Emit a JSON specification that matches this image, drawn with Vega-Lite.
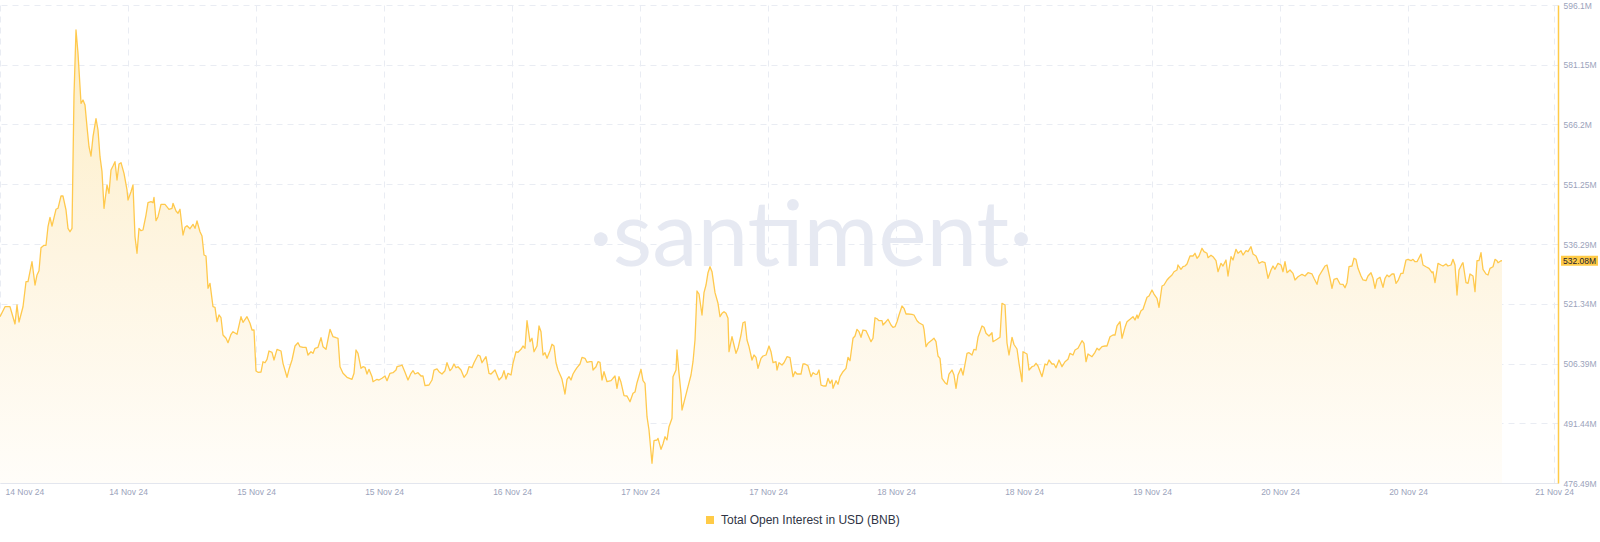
{
  "$schema": "https://vega.github.io/schema/vega-lite/v6.json",
  "description": "Total Open Interest in USD (BNB), 14-21 Nov 24",
  "width": 1558,
  "height": 478,
  "autosize": {"type": "none"},
  "padding": {"left": 0, "top": 5, "right": 42, "bottom": 59},
  "background": "#ffffff",
  "data": {
    "values": [
      {"t":1731560400000,"v":518.10},{"t":1731562400000,"v":520.60},{"t":1731564400000,"v":520.60},{"t":1731566400000,"v":516.28},
      {"t":1731567200000,"v":521.03},{"t":1731568000000,"v":516.78},{"t":1731569600000,"v":520.60},{"t":1731570800000,"v":526.86},
      {"t":1731571600000,"v":526.86},{"t":1731573200000,"v":531.86},{"t":1731574400000,"v":526.03},{"t":1731575200000,"v":528.54},
      {"t":1731576000000,"v":529.61},{"t":1731576800000,"v":535.37},{"t":1731578000000,"v":535.97},{"t":1731578800000,"v":535.97},
      {"t":1731579600000,"v":540.62},{"t":1731580400000,"v":542.98},{"t":1731581200000,"v":540.80},{"t":1731582800000,"v":544.98},
      {"t":1731583600000,"v":545.23},{"t":1731584800000,"v":548.30},{"t":1731585600000,"v":548.30},{"t":1731586800000,"v":544.80},
      {"t":1731587600000,"v":540.22},{"t":1731588400000,"v":539.37},{"t":1731589200000,"v":540.22},{"t":1731590000000,"v":573.58},
      {"t":1731590800000,"v":589.84},{"t":1731591600000,"v":584.01},{"t":1731592800000,"v":571.50},{"t":1731593600000,"v":572.33},
      {"t":1731594400000,"v":571.08},{"t":1731595200000,"v":565.65},{"t":1731596000000,"v":560.64},{"t":1731596800000,"v":558.31},
      {"t":1731597600000,"v":563.14},{"t":1731598800000,"v":567.65},{"t":1731599600000,"v":564.82},{"t":1731600400000,"v":558.14},
      {"t":1731601200000,"v":554.39},{"t":1731602000000,"v":545.23},{"t":1731603200000,"v":551.06},{"t":1731604000000,"v":548.98},
      {"t":1731604800000,"v":554.81},{"t":1731605600000,"v":555.81},{"t":1731606400000,"v":556.89},{"t":1731607200000,"v":552.31},
      {"t":1731608000000,"v":556.31},{"t":1731608800000,"v":556.64},{"t":1731610000000,"v":553.98},{"t":1731611200000,"v":549.81},
      {"t":1731611600000,"v":547.30},{"t":1731612800000,"v":549.38},{"t":1731613600000,"v":551.06},{"t":1731614400000,"v":538.12},
      {"t":1731615200000,"v":533.97},{"t":1731616000000,"v":540.22},{"t":1731616800000,"v":539.62},{"t":1731617600000,"v":539.80},
      {"t":1731618800000,"v":543.55},{"t":1731619600000,"v":546.63},{"t":1731620800000,"v":546.88},{"t":1731621600000,"v":546.63},
      {"t":1731622000000,"v":547.98},{"t":1731622800000,"v":542.12},{"t":1731623600000,"v":543.13},{"t":1731624800000,"v":546.23},
      {"t":1731626400000,"v":546.23},{"t":1731628000000,"v":544.98},{"t":1731629200000,"v":545.23},{"t":1731629600000,"v":546.48},
      {"t":1731630800000,"v":544.55},{"t":1731631600000,"v":543.98},{"t":1731632400000,"v":544.98},{"t":1731633600000,"v":538.55},
      {"t":1731634400000,"v":540.47},{"t":1731635200000,"v":540.87},{"t":1731636400000,"v":540.12},{"t":1731637600000,"v":541.22},
      {"t":1731638400000,"v":540.22},{"t":1731639200000,"v":542.05},{"t":1731640400000,"v":539.37},{"t":1731641200000,"v":538.30},
      {"t":1731642000000,"v":533.54},{"t":1731642800000,"v":533.29},{"t":1731643600000,"v":525.21},{"t":1731644400000,"v":526.46},
      {"t":1731645600000,"v":520.60},{"t":1731646400000,"v":520.45},{"t":1731647200000,"v":516.85},{"t":1731648000000,"v":518.53},
      {"t":1731648800000,"v":517.85},{"t":1731649600000,"v":513.52},{"t":1731650800000,"v":512.70},{"t":1731651600000,"v":511.60},
      {"t":1731652800000,"v":513.70},{"t":1731653600000,"v":514.35},{"t":1731655200000,"v":513.70},{"t":1731656800000,"v":518.10},
      {"t":1731657600000,"v":516.70},{"t":1731659200000,"v":518.10},{"t":1731660400000,"v":516.45},{"t":1731661200000,"v":514.77},
      {"t":1731662000000,"v":514.77},{"t":1731662800000,"v":504.51},{"t":1731663600000,"v":504.19},{"t":1731664800000,"v":504.26},
      {"t":1731665600000,"v":506.84},{"t":1731666400000,"v":506.59},{"t":1731667200000,"v":507.44},{"t":1731668000000,"v":509.52},
      {"t":1731669200000,"v":509.19},{"t":1731670000000,"v":507.27},{"t":1731671200000,"v":509.94},{"t":1731672800000,"v":509.52},
      {"t":1731673600000,"v":506.44},{"t":1731675200000,"v":502.94},{"t":1731676000000,"v":504.94},{"t":1731677200000,"v":507.27},
      {"t":1731678400000,"v":510.77},{"t":1731679600000,"v":511.60},{"t":1731680400000,"v":510.60},{"t":1731681600000,"v":510.45},
      {"t":1731682800000,"v":510.45},{"t":1731683600000,"v":508.52},{"t":1731684800000,"v":509.34},{"t":1731685600000,"v":508.94},
      {"t":1731686400000,"v":510.20},{"t":1731687600000,"v":510.45},{"t":1731688800000,"v":512.85},{"t":1731689600000,"v":510.60},
      {"t":1731690800000,"v":509.94},{"t":1731692400000,"v":514.95},{"t":1731693600000,"v":513.10},{"t":1731694800000,"v":512.85},
      {"t":1731695600000,"v":512.70},{"t":1731696400000,"v":505.59},{"t":1731697600000,"v":503.94},{"t":1731699200000,"v":502.94},
      {"t":1731701200000,"v":502.44},{"t":1731702000000,"v":503.94},{"t":1731702800000,"v":509.77},{"t":1731703600000,"v":508.94},
      {"t":1731704800000,"v":505.19},{"t":1731705600000,"v":505.59},{"t":1731706400000,"v":505.44},{"t":1731707200000,"v":503.76},
      {"t":1731708000000,"v":504.94},{"t":1731709200000,"v":503.09},{"t":1731709600000,"v":501.84},{"t":1731711200000,"v":502.44},
      {"t":1731712000000,"v":502.26},{"t":1731713200000,"v":502.69},{"t":1731714400000,"v":503.26},{"t":1731715200000,"v":502.09},
      {"t":1731716400000,"v":503.94},{"t":1731717600000,"v":504.09},{"t":1731718800000,"v":504.76},{"t":1731719200000,"v":505.59},
      {"t":1731720400000,"v":505.77},{"t":1731721200000,"v":506.02},{"t":1731722400000,"v":504.19},{"t":1731723600000,"v":502.26},
      {"t":1731724800000,"v":503.94},{"t":1731725600000,"v":504.59},{"t":1731726400000,"v":503.76},{"t":1731727600000,"v":504.09},
      {"t":1731728800000,"v":503.26},{"t":1731729600000,"v":503.26},{"t":1731730400000,"v":500.84},{"t":1731732000000,"v":501.01},
      {"t":1731733200000,"v":502.26},{"t":1731734000000,"v":504.76},{"t":1731735200000,"v":505.02},{"t":1731736000000,"v":504.34},
      {"t":1731737200000,"v":503.76},{"t":1731738400000,"v":504.59},{"t":1731739200000,"v":506.59},{"t":1731740400000,"v":504.59},
      {"t":1731741200000,"v":505.19},{"t":1731742000000,"v":506.27},{"t":1731742800000,"v":505.34},{"t":1731743600000,"v":505.59},
      {"t":1731744800000,"v":504.76},{"t":1731746000000,"v":502.94},{"t":1731747200000,"v":503.94},{"t":1731748000000,"v":505.59},
      {"t":1731749200000,"v":505.34},{"t":1731750000000,"v":506.59},{"t":1731751600000,"v":508.52},{"t":1731752400000,"v":508.27},
      {"t":1731753200000,"v":506.59},{"t":1731754800000,"v":508.09},{"t":1731756000000,"v":503.94},{"t":1731756800000,"v":503.76},
      {"t":1731758400000,"v":504.76},{"t":1731759200000,"v":503.51},{"t":1731760000000,"v":502.26},{"t":1731761200000,"v":503.09},
      {"t":1731762000000,"v":504.59},{"t":1731762800000,"v":502.51},{"t":1731763600000,"v":503.94},{"t":1731764800000,"v":503.51},
      {"t":1731765600000,"v":506.44},{"t":1731766800000,"v":509.34},{"t":1731767600000,"v":509.19},{"t":1731768800000,"v":509.94},
      {"t":1731769600000,"v":510.77},{"t":1731770400000,"v":510.20},{"t":1731771200000,"v":517.10},{"t":1731772400000,"v":511.85},
      {"t":1731773200000,"v":512.70},{"t":1731774000000,"v":509.34},{"t":1731775200000,"v":510.77},{"t":1731776000000,"v":515.78},
      {"t":1731776800000,"v":514.35},{"t":1731777600000,"v":508.52},{"t":1731778400000,"v":509.09},{"t":1731779200000,"v":507.69},
      {"t":1731780400000,"v":509.59},{"t":1731781200000,"v":511.20},{"t":1731782000000,"v":510.77},{"t":1731782800000,"v":506.59},
      {"t":1731783600000,"v":504.76},{"t":1731784800000,"v":503.09},{"t":1731785200000,"v":502.44},{"t":1731786400000,"v":498.76},
      {"t":1731787200000,"v":502.44},{"t":1731788000000,"v":503.09},{"t":1731788800000,"v":502.26},{"t":1731789600000,"v":503.76},
      {"t":1731790400000,"v":504.59},{"t":1731791200000,"v":505.34},{"t":1731792400000,"v":506.27},{"t":1731793200000,"v":507.94},
      {"t":1731794400000,"v":507.69},{"t":1731795200000,"v":506.69},{"t":1731796400000,"v":506.84},{"t":1731797200000,"v":506.84},
      {"t":1731797600000,"v":504.76},{"t":1731798800000,"v":505.59},{"t":1731799600000,"v":506.84},{"t":1731800400000,"v":506.69},
      {"t":1731801200000,"v":502.26},{"t":1731802000000,"v":504.34},{"t":1731803200000,"v":501.84},{"t":1731804800000,"v":502.09},
      {"t":1731805600000,"v":502.69},{"t":1731806400000,"v":503.26},{"t":1731807200000,"v":500.19},{"t":1731808000000,"v":503.09},
      {"t":1731808800000,"v":501.69},{"t":1731810000000,"v":498.33},{"t":1731811200000,"v":498.26},{"t":1731812400000,"v":496.83},
      {"t":1731813600000,"v":498.93},{"t":1731814400000,"v":499.26},{"t":1731815200000,"v":501.59},{"t":1731816800000,"v":504.94},
      {"t":1731817600000,"v":502.09},{"t":1731818400000,"v":501.44},{"t":1731819200000,"v":493.08},{"t":1731820000000,"v":489.75},
      {"t":1731821200000,"v":481.42},{"t":1731822000000,"v":487.07},{"t":1731823200000,"v":487.25},{"t":1731823600000,"v":487.67},
      {"t":1731824800000,"v":484.92},{"t":1731825600000,"v":486.25},{"t":1731826400000,"v":488.07},{"t":1731827200000,"v":487.25},
      {"t":1731828000000,"v":490.58},{"t":1731829200000,"v":492.68},{"t":1731829600000,"v":503.09},{"t":1731830800000,"v":504.76},
      {"t":1731831200000,"v":509.77},{"t":1731832000000,"v":503.94},{"t":1731832800000,"v":498.93},{"t":1731833200000,"v":494.76},
      {"t":1731834400000,"v":497.68},{"t":1731835600000,"v":500.59},{"t":1731836800000,"v":503.51},{"t":1731837600000,"v":506.84},
      {"t":1731838400000,"v":512.27},{"t":1731839200000,"v":524.53},{"t":1731840000000,"v":523.78},{"t":1731841200000,"v":518.53},
      {"t":1731842000000,"v":524.11},{"t":1731842800000,"v":526.03},{"t":1731843600000,"v":529.11},{"t":1731844400000,"v":530.61},
      {"t":1731845200000,"v":529.36},{"t":1731846400000,"v":524.11},{"t":1731847600000,"v":521.46},{"t":1731848400000,"v":518.10},
      {"t":1731849200000,"v":518.95},{"t":1731850000000,"v":519.35},{"t":1731850800000,"v":518.95},{"t":1731851600000,"v":517.70},
      {"t":1731852000000,"v":509.34},{"t":1731853200000,"v":513.10},{"t":1731854000000,"v":511.02},{"t":1731854800000,"v":508.94},
      {"t":1731855600000,"v":510.20},{"t":1731856800000,"v":513.52},{"t":1731857600000,"v":516.60},{"t":1731858400000,"v":516.85},
      {"t":1731859200000,"v":512.27},{"t":1731860000000,"v":510.60},{"t":1731861200000,"v":507.27},{"t":1731862000000,"v":508.52},
      {"t":1731862800000,"v":507.94},{"t":1731863600000,"v":505.19},{"t":1731864800000,"v":507.69},{"t":1731865600000,"v":508.27},
      {"t":1731866800000,"v":508.52},{"t":1731868000000,"v":510.77},{"t":1731868800000,"v":509.34},{"t":1731869600000,"v":506.59},
      {"t":1731870800000,"v":506.84},{"t":1731871200000,"v":504.76},{"t":1731872000000,"v":506.59},{"t":1731873200000,"v":506.02},
      {"t":1731874000000,"v":506.59},{"t":1731875200000,"v":508.09},{"t":1731876400000,"v":507.84},{"t":1731877600000,"v":503.09},
      {"t":1731878400000,"v":504.34},{"t":1731879200000,"v":503.76},{"t":1731880800000,"v":503.76},{"t":1731881600000,"v":506.27},
      {"t":1731882400000,"v":506.27},{"t":1731883600000,"v":505.84},{"t":1731884800000,"v":503.09},{"t":1731885600000,"v":504.09},
      {"t":1731886400000,"v":503.76},{"t":1731887200000,"v":503.69},{"t":1731888000000,"v":504.76},{"t":1731888800000,"v":501.01},
      {"t":1731890000000,"v":500.76},{"t":1731890800000,"v":500.76},{"t":1731891600000,"v":502.69},{"t":1731892400000,"v":501.44},
      {"t":1731893200000,"v":502.26},{"t":1731893600000,"v":500.19},{"t":1731894800000,"v":502.09},{"t":1731895600000,"v":501.19},
      {"t":1731896400000,"v":503.09},{"t":1731897600000,"v":504.34},{"t":1731898800000,"v":505.19},{"t":1731899600000,"v":507.94},
      {"t":1731900400000,"v":507.09},{"t":1731901600000,"v":512.70},{"t":1731902400000,"v":513.27},{"t":1731903200000,"v":514.95},
      {"t":1731904000000,"v":514.35},{"t":1731904800000,"v":512.95},{"t":1731905600000,"v":514.77},{"t":1731906800000,"v":514.60},
      {"t":1731907600000,"v":513.52},{"t":1731908800000,"v":511.85},{"t":1731909600000,"v":512.70},{"t":1731910400000,"v":517.85},
      {"t":1731911200000,"v":517.60},{"t":1731912000000,"v":517.10},{"t":1731913200000,"v":517.10},{"t":1731913600000,"v":516.03},
      {"t":1731914800000,"v":516.85},{"t":1731915600000,"v":517.45},{"t":1731916800000,"v":516.03},{"t":1731917600000,"v":515.45},
      {"t":1731918400000,"v":515.60},{"t":1731919200000,"v":516.85},{"t":1731920000000,"v":518.53},{"t":1731921200000,"v":520.78},
      {"t":1731922000000,"v":520.20},{"t":1731922800000,"v":518.78},{"t":1731923600000,"v":518.78},{"t":1731925200000,"v":518.70},
      {"t":1731926000000,"v":518.53},{"t":1731927200000,"v":517.10},{"t":1731928000000,"v":516.60},{"t":1731929600000,"v":516.03},
      {"t":1731930000000,"v":514.95},{"t":1731930800000,"v":510.60},{"t":1731931600000,"v":511.45},{"t":1731933200000,"v":512.27},
      {"t":1731934000000,"v":512.70},{"t":1731934800000,"v":511.85},{"t":1731935600000,"v":508.27},{"t":1731936400000,"v":507.69},
      {"t":1731937200000,"v":502.69},{"t":1731938400000,"v":501.59},{"t":1731939200000,"v":501.19},{"t":1731940000000,"v":503.76},
      {"t":1731941200000,"v":504.76},{"t":1731942000000,"v":503.51},{"t":1731942800000,"v":500.19},{"t":1731943600000,"v":503.51},
      {"t":1731944800000,"v":505.19},{"t":1731945600000,"v":503.51},{"t":1731947200000,"v":508.94},{"t":1731948000000,"v":509.09},
      {"t":1731949200000,"v":508.52},{"t":1731950000000,"v":509.94},{"t":1731950800000,"v":509.77},{"t":1731951600000,"v":512.95},
      {"t":1731953200000,"v":515.78},{"t":1731954000000,"v":515.45},{"t":1731954800000,"v":513.95},{"t":1731956000000,"v":513.27},
      {"t":1731957200000,"v":514.10},{"t":1731957600000,"v":511.85},{"t":1731959200000,"v":512.45},{"t":1731960400000,"v":512.95},
      {"t":1731961200000,"v":521.46},{"t":1731962400000,"v":521.03},{"t":1731963200000,"v":511.52},{"t":1731964000000,"v":508.52},
      {"t":1731965200000,"v":512.95},{"t":1731966000000,"v":511.15},{"t":1731967200000,"v":510.02},{"t":1731968000000,"v":506.44},
      {"t":1731969200000,"v":501.84},{"t":1731969600000,"v":509.34},{"t":1731971200000,"v":508.77},{"t":1731972000000,"v":504.76},
      {"t":1731973200000,"v":505.59},{"t":1731974000000,"v":505.77},{"t":1731974800000,"v":506.44},{"t":1731975600000,"v":505.77},
      {"t":1731977200000,"v":503.09},{"t":1731978400000,"v":506.27},{"t":1731979200000,"v":506.02},{"t":1731980000000,"v":507.27},
      {"t":1731981200000,"v":506.27},{"t":1731982000000,"v":506.27},{"t":1731982800000,"v":505.34},{"t":1731984000000,"v":507.27},
      {"t":1731985200000,"v":505.59},{"t":1731986400000,"v":506.84},{"t":1731987600000,"v":507.44},{"t":1731988400000,"v":508.94},
      {"t":1731989600000,"v":508.52},{"t":1731990400000,"v":509.77},{"t":1731991600000,"v":510.20},{"t":1731993200000,"v":512.10},
      {"t":1731994000000,"v":511.45},{"t":1731994800000,"v":506.84},{"t":1731995600000,"v":508.77},{"t":1731997200000,"v":508.09},
      {"t":1731998400000,"v":509.19},{"t":1731999200000,"v":510.20},{"t":1732000000000,"v":509.77},{"t":1732001200000,"v":510.60},
      {"t":1732002400000,"v":510.77},{"t":1732003200000,"v":510.77},{"t":1732004400000,"v":513.10},{"t":1732005600000,"v":513.52},
      {"t":1732006400000,"v":513.52},{"t":1732007200000,"v":515.78},{"t":1732008400000,"v":516.85},{"t":1732009200000,"v":512.70},
      {"t":1732010400000,"v":515.45},{"t":1732011200000,"v":516.85},{"t":1732012400000,"v":517.45},{"t":1732013600000,"v":518.10},
      {"t":1732014400000,"v":517.28},{"t":1732015200000,"v":518.53},{"t":1732015600000,"v":517.70},{"t":1732016800000,"v":519.60},
      {"t":1732017600000,"v":519.95},{"t":1732018400000,"v":521.46},{"t":1732019200000,"v":522.96},{"t":1732020000000,"v":523.28},
      {"t":1732021200000,"v":524.78},{"t":1732022000000,"v":523.78},{"t":1732023200000,"v":522.71},{"t":1732024000000,"v":520.45},
      {"t":1732025200000,"v":525.78},{"t":1732026000000,"v":526.03},{"t":1732027200000,"v":527.29},{"t":1732028000000,"v":527.86},
      {"t":1732029200000,"v":528.54},{"t":1732030000000,"v":529.36},{"t":1732031200000,"v":529.79},{"t":1732031600000,"v":531.04},
      {"t":1732032800000,"v":529.96},{"t":1732033600000,"v":530.61},{"t":1732034400000,"v":530.79},{"t":1732035200000,"v":531.29},
      {"t":1732036400000,"v":533.29},{"t":1732037600000,"v":533.29},{"t":1732038400000,"v":533.97},{"t":1732039200000,"v":532.72},
      {"t":1732040000000,"v":533.29},{"t":1732041200000,"v":535.22},{"t":1732042000000,"v":534.37},{"t":1732043200000,"v":533.97},
      {"t":1732043600000,"v":532.87},{"t":1732044800000,"v":533.47},{"t":1732045600000,"v":533.12},{"t":1732046800000,"v":532.12},
      {"t":1732047600000,"v":529.36},{"t":1732048800000,"v":531.46},{"t":1732049600000,"v":530.79},{"t":1732050800000,"v":532.29},
      {"t":1732051600000,"v":528.29},{"t":1732052800000,"v":533.12},{"t":1732053600000,"v":532.29},{"t":1732054800000,"v":534.97},
      {"t":1732055600000,"v":533.97},{"t":1732056800000,"v":534.62},{"t":1732057600000,"v":533.54},{"t":1732058800000,"v":534.62},
      {"t":1732059600000,"v":534.37},{"t":1732060800000,"v":535.62},{"t":1732061600000,"v":533.79},{"t":1732062800000,"v":533.29},
      {"t":1732064000000,"v":531.46},{"t":1732065200000,"v":531.86},{"t":1732066400000,"v":531.61},{"t":1732067600000,"v":527.71},
      {"t":1732068800000,"v":529.79},{"t":1732069600000,"v":530.79},{"t":1732070400000,"v":529.96},{"t":1732071600000,"v":531.46},
      {"t":1732072800000,"v":531.04},{"t":1732073600000,"v":529.36},{"t":1732074400000,"v":531.86},{"t":1732075200000,"v":529.11},
      {"t":1732076400000,"v":529.79},{"t":1732077600000,"v":528.96},{"t":1732078400000,"v":527.29},{"t":1732079600000,"v":528.11},
      {"t":1732081200000,"v":528.71},{"t":1732082400000,"v":528.29},{"t":1732083600000,"v":529.11},{"t":1732085200000,"v":528.79},
      {"t":1732086000000,"v":527.71},{"t":1732087200000,"v":526.21},{"t":1732088000000,"v":528.29},{"t":1732089600000,"v":529.96},
      {"t":1732090400000,"v":530.79},{"t":1732091200000,"v":531.04},{"t":1732092400000,"v":527.71},{"t":1732093200000,"v":525.21},
      {"t":1732094000000,"v":527.46},{"t":1732095200000,"v":527.71},{"t":1732096400000,"v":526.28},{"t":1732097600000,"v":526.21},
      {"t":1732098400000,"v":525.36},{"t":1732099200000,"v":526.61},{"t":1732100000000,"v":530.61},{"t":1732101200000,"v":530.79},
      {"t":1732102000000,"v":532.72},{"t":1732102800000,"v":532.46},{"t":1732103600000,"v":530.21},{"t":1732104800000,"v":528.29},
      {"t":1732105600000,"v":527.29},{"t":1732106800000,"v":527.11},{"t":1732107600000,"v":528.29},{"t":1732108800000,"v":529.11},
      {"t":1732109600000,"v":527.71},{"t":1732110400000,"v":525.21},{"t":1732111200000,"v":527.46},{"t":1732112400000,"v":527.96},
      {"t":1732113600000,"v":525.46},{"t":1732114400000,"v":527.71},{"t":1732115200000,"v":528.54},{"t":1732116000000,"v":528.11},
      {"t":1732117200000,"v":528.79},{"t":1732118000000,"v":528.79},{"t":1732118800000,"v":526.46},{"t":1732119600000,"v":527.11},
      {"t":1732120800000,"v":528.96},{"t":1732121600000,"v":528.96},{"t":1732122800000,"v":532.29},{"t":1732123600000,"v":532.46},
      {"t":1732124800000,"v":532.12},{"t":1732125600000,"v":532.46},{"t":1732126400000,"v":531.86},{"t":1732127200000,"v":531.86},
      {"t":1732128800000,"v":533.79},{"t":1732129600000,"v":531.04},{"t":1732130800000,"v":530.61},{"t":1732132000000,"v":530.21},
      {"t":1732133200000,"v":529.11},{"t":1732133600000,"v":529.36},{"t":1732134400000,"v":526.61},{"t":1732135600000,"v":531.46},
      {"t":1732136800000,"v":531.04},{"t":1732137600000,"v":530.79},{"t":1732138800000,"v":531.29},{"t":1732139600000,"v":530.79},
      {"t":1732140800000,"v":531.04},{"t":1732141600000,"v":532.46},{"t":1732142400000,"v":531.04},{"t":1732143200000,"v":523.53},
      {"t":1732144000000,"v":529.79},{"t":1732145200000,"v":531.29},{"t":1732145600000,"v":531.61},{"t":1732146800000,"v":526.61},
      {"t":1732147600000,"v":526.46},{"t":1732148400000,"v":528.79},{"t":1732149600000,"v":528.29},{"t":1732150400000,"v":524.36},
      {"t":1732151200000,"v":532.12},{"t":1732152000000,"v":532.12},{"t":1732152800000,"v":534.12},{"t":1732153600000,"v":529.96},
      {"t":1732154800000,"v":528.79},{"t":1732155600000,"v":528.54},{"t":1732156400000,"v":530.21},{"t":1732157600000,"v":530.61},
      {"t":1732158400000,"v":532.46},{"t":1732159200000,"v":532.12},{"t":1732159600000,"v":531.61},{"t":1732160800000,"v":532.12},
      {"t":1732161200000,"v":532.08}
    ]
  },
  "encoding": {
    "x": {
      "field": "t",
      "type": "temporal",
      "title": null,
      "scale": {"type": "utc", "domain": [1731560400000, 1732183600000]},
      "axis": {
        "values": [1731560400000, 1731611600000, 1731662800000, 1731714000000, 1731765200000, 1731816400000, 1731867600000, 1731918800000, 1731970000000, 1732021200000, 1732072400000, 1732123600000, 1732182000000],
        "format": "%d %b %y",
        "labelOverlap": false,
        "labelFlush": true,
        "labelFlushOffset": -5,
        "labelPadding": 4
      }
    },
    "y": {
      "field": "v",
      "type": "quantitative",
      "title": null,
      "scale": {"domain": [476.49, 596.1], "zero": false, "nice": false},
      "axis": {
        "orient": "right",
        "values": [476.49, 491.44, 506.39, 521.34, 536.29, 551.25, 566.2, 581.15, 596.1],
        "labelExpr": "datum.value + 'M'",
        "labelOverlap": false,
        "labelPadding": 5,
        "domainColor": "#ffcb47",
        "domainWidth": 1.5
      }
    }
  },
  "layer": [
    {
      "data": {"values": [{"t": 1731884800000, "v": 530.9, "name": "·santiment·"}]},
      "mark": {
        "type": "text",
        "font": "Lato",
        "fontSize": 91,
        "color": "#e6e9f2",
        "align": "center",
        "baseline": "alphabetic"
      },
      "encoding": {
        "text": {"field": "name"}
      }
    },
    {
      "mark": {
        "type": "area",
        "color": {
          "x1": 0, "y1": 0, "x2": 0, "y2": 1,
          "gradient": "linear",
          "stops": [
            {"offset": 0, "color": "#fdeec6"},
            {"offset": 0.5, "color": "#fef5e1"},
            {"offset": 1, "color": "#fffdf9"}
          ]
        }
      },
      "encoding": {
        "y2": {"datum": 476.49}
      }
    },
    {
      "mark": {"type": "line", "color": "#ffc94d", "strokeWidth": 1.3, "strokeJoin": "round"}
    },
    {
      "transform": [
        {"filter": "datum.t == 1732161200000"},
        {"calculate": "format(datum.v, '.2f') + 'M'", "as": "label"}
      ],
      "layer": [
        {
          "mark": {
            "type": "point",
            "filled": true,
            "opacity": 1,
            "shape": "M-1.85,-0.5H1.85V0.5H-1.85Z",
            "size": 400,
            "xOffset": 21.5
          },
          "encoding": {
            "x": {"datum": 1732183600000, "type": "temporal"},
            "color": {
              "datum": "Total Open Interest in USD (BNB)",
              "type": "nominal",
              "scale": {"range": ["#ffcb47"]},
              "legend": {
                "title": null,
                "orient": "none",
                "legendX": 704,
                "legendY": 509,
                "padding": 0,
                "symbolType": "square",
                "symbolSize": 64,
                "symbolStrokeWidth": 0,
                "labelFontSize": 12,
                "labelColor": "#2f3444",
                "labelFont": "Liberation Sans",
                "labelLimit": 0,
                "labelOffset": 5
              }
            }
          }
        },
        {
          "mark": {
            "type": "text",
            "xOffset": 21.5,
            "align": "center",
            "baseline": "middle",
            "fontSize": 8.5,
            "font": "Liberation Sans",
            "color": "#1c2030"
          },
          "encoding": {
            "x": {"datum": 1732183600000, "type": "temporal"},
            "text": {"field": "label"}
          }
        }
      ]
    }
  ],
  "config": {
    "view": {"stroke": null},
    "axis": {
      "grid": true,
      "gridColor": "#e9ecf3",
      "gridDash": [6, 5],
      "gridWidth": 1,
      "ticks": false,
      "domainColor": "#e3e6ee",
      "labelColor": "#9ba3bb",
      "labelFont": "Liberation Sans",
      "labelFontSize": 8.5
    }
  }
}
